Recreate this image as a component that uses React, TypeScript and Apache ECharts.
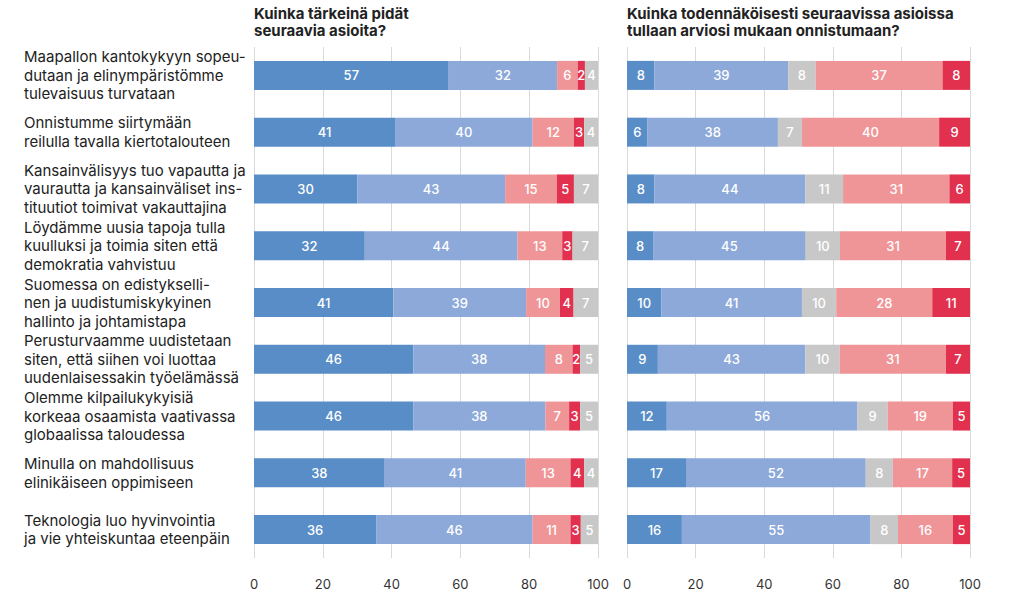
import React, { useEffect, useRef } from "react";
import * as echarts from "echarts";

const categories = [
  "Maapallon kantokykyyn sopeu-\ndutaan ja elinympäristömme\ntulevaisuus turvataan",
  "Onnistumme siirtymään\nreilulla tavalla kiertotalouteen",
  "Kansainvälisyys tuo vapautta ja\nvaurautta ja kansainväliset ins-\ntituutiot toimivat vakauttajina",
  "Löydämme uusia tapoja tulla\nkuulluksi ja toimia siten että\ndemokratia vahvistuu",
  "Suomessa on edistykselli-\nnen ja uudistumiskykyinen\nhallinto ja johtamistapa",
  "Perusturvaamme uudistetaan\nsiten, että siihen voi luottaa\nuudenlaisessakin työelämässä",
  "Olemme kilpailukykyisiä\nkorkeaa osaamista vaativassa\nglobaalissa taloudessa",
  "Minulla on mahdollisuus\nelinikäiseen oppimiseen",
  "Teknologia luo hyvinvointia\nja vie yhteiskuntaa eteenpäin",
];

const titleLeft = "Kuinka tärkeinä pidät\nseuraavia asioita?";
const titleRight = "Kuinka todennäköisesti seuraavissa asioissa\ntullaan arviosi mukaan onnistumaan?";

// Left panel: importance (estimated unrounded shares; labels show rounded values)
const leftA = [56.6, 41, 30, 32.2, 40.5, 46.3, 46.3, 38, 35.5];
const leftB = [31.5, 40, 43, 44.4, 38.6, 38.3, 38.4, 41, 45.5];
const leftC = [6.0, 12, 15, 13.0, 9.8, 8.0, 6.9, 13, 11.0];
const leftD = [2.1, 3, 5, 3.0, 4.0, 2.2, 3.2, 4, 3.0];
const leftE = [3.8, 4, 7, 7.4, 7.1, 5.2, 5.2, 4, 5.0];

// Right panel: likelihood
const rightA = [8, 6, 8, 7.6, 10, 9, 11.6, 17.2, 16];
const rightB = [39, 38, 44, 44.5, 41, 43, 55.6, 52.4, 55];
const rightC = [8, 7, 11, 10.0, 10, 10, 8.8, 7.9, 8];
const rightD = [37, 40, 31, 30.9, 28, 31, 19.0, 17.3, 16];
const rightE = [8, 9, 6, 7.0, 11, 7, 5.0, 5.2, 5];

const xTicks = [0, 20, 40, 60, 80, 100];

const C_DARK = "#588dc7";
const C_LIGHT = "#8ca9d9";
const C_PINK = "#f09597";
const C_RED = "#e2304f";
const C_GRAY = "#c8c8c8";

const FONT = "Inter, 'Noto Sans', sans-serif";

export default function App() {
  const ref = useRef<HTMLDivElement>(null);
  useEffect(() => {
    if (!ref.current) return;
    const chart = echarts.init(ref.current, undefined, { renderer: "svg" });

    const mkSeries = (name: string, data: number[], color: string, axis: number) => ({
      name,
      type: "bar",
      stack: "s" + axis,
      xAxisIndex: axis,
      yAxisIndex: axis,
      data,
      barWidth: 29,
      itemStyle: { color },
      label: {
        show: true,
        position: "inside",
        color: "#ffffff",
        fontSize: 13,
        fontWeight: 500,
        fontFamily: FONT,
        formatter: (p: any) => String(Math.round(p.value)),
      },
    });

    const xAxisBase = (gridIndex: number) => ({
      type: "value",
      gridIndex,
      min: 0,
      max: 100,
      interval: 20,
      axisLine: { show: false },
      axisTick: { show: false },
      splitLine: { show: true, lineStyle: { color: "#d9d9d9", width: 1 } },
      axisLabel: {
        color: "#333333",
        fontSize: 13,
        fontFamily: FONT,
        margin: 19,
        formatter: (v: number) => (xTicks.includes(v) ? String(v) : ""),
      },
    });

    const titleStyle = {
      fontSize: 15,
      fontWeight: "bold",
      color: "#222222",
      fontFamily: FONT,
      lineHeight: 17,
    };

    chart.setOption({
      animation: false,
      title: [
        { text: titleLeft, left: 254, top: 5, padding: 0, textStyle: titleStyle },
        { text: titleRight, left: 627, top: 5, padding: 0, textStyle: titleStyle },
      ],
      grid: [
        { left: 254, width: 344, top: 47, height: 511 },
        { left: 627, width: 343, top: 47, height: 511 },
      ],
      xAxis: [xAxisBase(0), xAxisBase(1)],
      yAxis: [
        {
          type: "category",
          gridIndex: 0,
          inverse: true,
          data: categories,
          axisLine: { show: false },
          axisTick: { show: false },
          axisLabel: {
            align: "left",
            margin: 230,
            color: "#222222",
            fontSize: 15,
            lineHeight: 18.5,
            fontFamily: FONT,
          },
        },
        {
          type: "category",
          gridIndex: 1,
          inverse: true,
          data: categories,
          axisLine: { show: false },
          axisTick: { show: false },
          axisLabel: { show: false },
        },
      ],
      series: [
        mkSeries("L1", leftA, C_DARK, 0),
        mkSeries("L2", leftB, C_LIGHT, 0),
        mkSeries("L3", leftC, C_PINK, 0),
        mkSeries("L4", leftD, C_RED, 0),
        mkSeries("L5", leftE, C_GRAY, 0),
        mkSeries("R1", rightA, C_DARK, 1),
        mkSeries("R2", rightB, C_LIGHT, 1),
        mkSeries("R3", rightC, C_GRAY, 1),
        mkSeries("R4", rightD, C_PINK, 1),
        mkSeries("R5", rightE, C_RED, 1),
      ],
    });
    return () => chart.dispose();
  }, []);

  return (
    <div
      ref={ref}
      style={{ position: "fixed", left: 0, top: 0, width: 1024, height: 614, background: "#ffffff" }}
    />
  );
}
